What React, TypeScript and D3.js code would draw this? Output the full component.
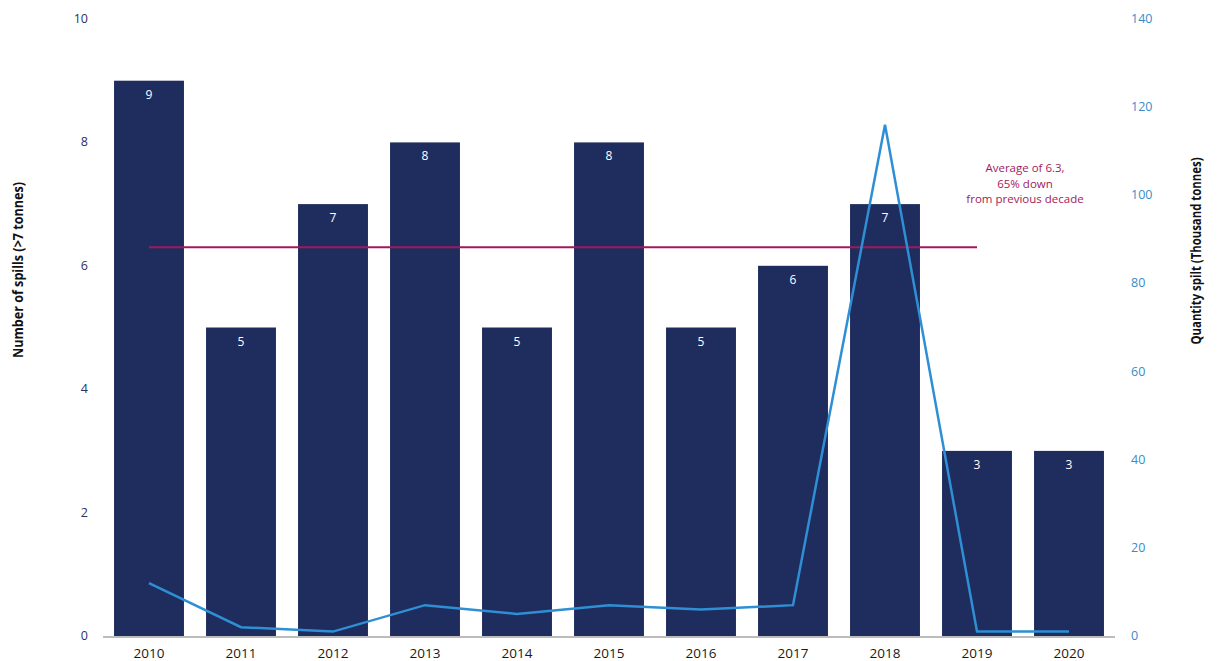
import React from "react";
import * as d3 from "d3";

const years = ["2010","2011","2012","2013","2014","2015","2016","2017","2018","2019","2020"];
const spills = [9, 5, 7, 8, 5, 8, 5, 6, 7, 3, 3];
const quantity = [12, 2, 1, 7, 5, 7, 6, 7, 116, 1, 1];
const leftTicks = [0, 2, 4, 6, 8, 10];
const rightTicks = [0, 20, 40, 60, 80, 100, 120, 140];
const averageValue = 6.3;
const averageLines = ["Average of 6.3,", "65% down", "from previous decade"];

const W = 1221, H = 661;
const m = { top: 19, bottom: 636, left: 103, right: 1115 };

export default function App() {
  const x = d3.scaleBand<string>().domain(years).range([m.left, m.right]).paddingInner(0.24).paddingOuter(0.12);
  const yL = d3.scaleLinear().domain([0, 10]).range([m.bottom, m.top]);
  const yR = d3.scaleLinear().domain([0, 140]).range([m.bottom, m.top]);
  const cx = (d: string) => (x(d) as number) + x.bandwidth() / 2;
  const line = d3.line<number>().x((_, i) => cx(years[i])).y((d) => yR(d));
  const wide = "'Open Sans', 'Noto Sans', sans-serif";
  return (
    <svg width={W} height={H} style={{ position: "absolute", left: 0, top: 0, background: "#fff" }}>
      {spills.map((v, i) => (
        <g key={years[i]}>
          <rect x={x(years[i])} y={yL(v)} width={x.bandwidth()} height={yL(0) - yL(v)} fill="#1f2d5e" />
          <text x={cx(years[i])} y={yL(v) + 18} textAnchor="middle" fill="#ffffff" fontSize={12} fontFamily={wide}>{v}</text>
        </g>
      ))}
      <line x1={m.left} x2={m.right} y1={m.bottom + 1} y2={m.bottom + 1} stroke="#7a7a7a" strokeWidth={1.2} />
      <line x1={cx(years[0])} x2={cx(years[9])} y1={yL(averageValue)} y2={yL(averageValue)} stroke="#a2195b" strokeWidth={2} />
      <path d={line(quantity) || ""} fill="none" stroke="#2e8fd4" strokeWidth={2.5} strokeLinejoin="miter" />
      {averageLines.map((t, i) => (
        <text key={t} x={1025} y={172 + i * 15.5} textAnchor="middle" fill="#a2195b" fontSize={11.5} fontFamily={wide}>{t}</text>
      ))}
      {leftTicks.map((t) => (
        <text key={"l" + t} x={88} y={yL(t) + 4} textAnchor="end" fill="#2b3163" fontSize={12.5} fontFamily={wide}>{t}</text>
      ))}
      {rightTicks.map((t) => (
        <text key={"r" + t} x={1131} y={yR(t) + 4} textAnchor="start" fill="#3a8cc8" fontSize={12.5} fontFamily={wide}>{t}</text>
      ))}
      {years.map((y) => (
        <text key={"x" + y} x={cx(y)} y={658} textAnchor="middle" fill="#1a1a1a" fontSize={13.5} fontFamily={wide}>{y}</text>
      ))}
      <text transform={`translate(23,270) rotate(-90)`} textAnchor="middle" fill="#111" fontSize={13.5} fontWeight="bold" fontFamily={wide} textLength={176} lengthAdjust="spacingAndGlyphs">Number of spills (&gt;7 tonnes)</text>
      <text transform={`translate(1201,251) rotate(-90)`} textAnchor="middle" fill="#111" fontSize={13.5} fontWeight="bold" fontFamily={wide} textLength={187} lengthAdjust="spacingAndGlyphs">Quantity spilt (Thousand tonnes)</text>
    </svg>
  );
}
